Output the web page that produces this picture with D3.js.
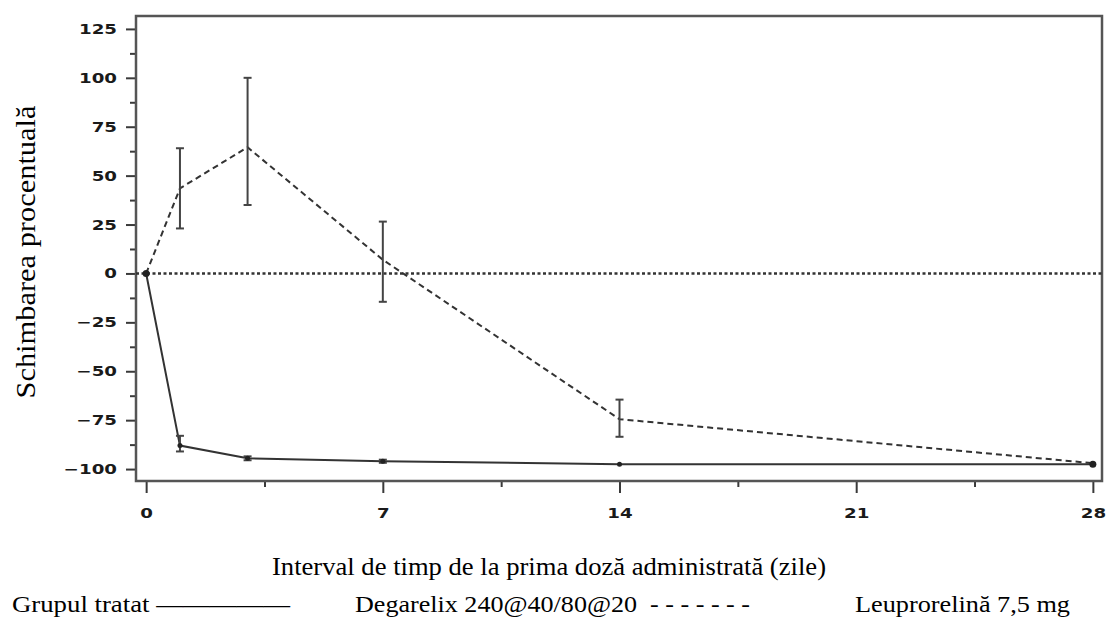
<!DOCTYPE html>
<html>
<head>
<meta charset="utf-8">
<script src="https://cdn.jsdelivr.net/npm/d3@7"></script>
<style>
  body { margin: 0; background: #fff; }
  svg { display: block; }
</style>
</head>
<body>
<div id="chart"></div>
<script>
// Days after first dose
const days = [0, 1, 3, 7, 14, 28];

// Degarelix 240@40/80@20 (solid): mean, low, high
const degMean = [0, -88, -94.5, -96, -97.5, -97.5];
const degLow = [0, -91, -95.5, -96.8, -98.2, -98.2];
const degHigh = [0, -83, -93.5, -95.2, -96.8, -96.8];

// Leuprorelin 7,5 mg (dashed): mean, low, high
const leuMean = [0, 43.5, 64.5, 7, -74.5, -97];
const leuLow = [0, 23, 35, -14.5, -83.5, -98];
const leuHigh = [0, 64, 100, 26.5, -64.5, -96];

const xTicks = [0, 7, 14, 21, 28];
const yTicks = [-100, -75, -50, -25, 0, 25, 50, 75, 100, 125];

const xTitle = 'Interval de timp de la prima doză administrată (zile)';
const yTitle = 'Schimbarea procentuală';
const legendLabels = [
  'Grupul tratat \u2014\u2014\u2014\u2014\u2014',
  'Degarelix 240@40/80@20  - - - - - - -',
  'Leuprorelină 7,5 mg'
];

const W = 1107, H = 621;
const margin = { top: 16, right: 5, bottom: 140, left: 136 };
const w = W - margin.left - margin.right;
const h = H - margin.top - margin.bottom;

const x = d3.scaleLinear().domain([-0.3, 28.27]).range([0, w]);
const y = d3.scaleLinear().domain([-106.1, 131.6]).range([h, 0]);

const svg = d3.select('#chart').append('svg').attr('width', W).attr('height', H);
const g = svg.append('g').attr('transform', `translate(${margin.left},${margin.top})`);

const ink = '#3a3a3a';
const tickFont = '"DejaVu Sans", sans-serif';
const serif = '"Liberation Serif", "Times New Roman", serif';

// stretch text horizontally to look like the wide glyphs of the source
function stretch(sel, k) {
  sel.each(function () {
    const len = this.getComputedTextLength();
    d3.select(this).attr('textLength', len * k).attr('lengthAdjust', 'spacingAndGlyphs');
  });
}

// Axes
g.append('g')
  .call(d3.axisLeft(y).tickValues(yTicks).tickSize(10).tickPadding(9)
    .tickFormat(d => (d < 0 ? '\u2212' : '') + Math.abs(d)));
g.append('g')
  .call(d3.axisLeft(y).tickValues(d3.range(-87.5, 125, 25)).tickSize(6).tickFormat(''));

g.append('g').attr('transform', `translate(0,${h})`)
  .call(d3.axisBottom(x).tickValues(xTicks).tickSize(12).tickPadding(15));
g.append('g').attr('transform', `translate(0,${h})`)
  .call(d3.axisBottom(x).tickValues([3.5, 10.5, 17.5, 24.5]).tickSize(6).tickFormat(''));

g.selectAll('.domain').remove();
g.selectAll('.tick line').attr('stroke', ink).attr('stroke-width', 2);
g.selectAll('.tick text')
  .attr('fill', '#1a1a1a')
  .attr('font-family', tickFont)
  .attr('font-weight', 'bold')
  .attr('font-size', '14px')
  .call(stretch, 1.3);

// Frame
g.append('rect')
  .attr('x', 0).attr('y', 0).attr('width', w).attr('height', h)
  .attr('fill', 'none').attr('stroke', '#555').attr('stroke-width', 2.5);

// Zero reference line
g.append('line')
  .attr('x1', 0).attr('x2', w).attr('y1', y(0)).attr('y2', y(0))
  .attr('stroke', '#333').attr('stroke-width', 2.5).attr('stroke-dasharray', '3 2.5');

const line = d3.line().x(d => x(d[0])).y(d => y(d[1]));

function errorBars(lows, highs, skip) {
  days.forEach((d, i) => {
    if (skip.includes(i)) return;
    const cx = x(d);
    g.append('line')
      .attr('x1', cx).attr('x2', cx).attr('y1', y(lows[i])).attr('y2', y(highs[i]))
      .attr('stroke', '#444').attr('stroke-width', 2);
    [lows[i], highs[i]].forEach(v => {
      g.append('line')
        .attr('x1', cx - 4).attr('x2', cx + 4).attr('y1', y(v)).attr('y2', y(v))
        .attr('stroke', '#444').attr('stroke-width', 2);
    });
  });
}

// Leuprorelin dashed
g.append('path')
  .datum(days.map((d, i) => [d, leuMean[i]]))
  .attr('d', line)
  .attr('fill', 'none').attr('stroke', '#333').attr('stroke-width', 2)
  .attr('stroke-dasharray', '6 4');
errorBars(leuLow, leuHigh, [0, 5]);

// Degarelix solid
g.append('path')
  .datum(days.map((d, i) => [d, degMean[i]]))
  .attr('d', line)
  .attr('fill', 'none').attr('stroke', '#333').attr('stroke-width', 2);
errorBars(degLow, degHigh, [0, 4, 5]);

g.selectAll('.pt')
  .data(days.map((d, i) => [d, degMean[i]]))
  .join('circle')
  .attr('cx', d => x(d[0])).attr('cy', d => y(d[1]))
  .attr('r', d => d[0] === 0 || d[0] === 28 ? 3.5 : 2.5)
  .attr('fill', '#222');

// Axis titles
svg.append('text')
  .attr('transform', 'translate(35,252) rotate(-90)')
  .attr('text-anchor', 'middle')
  .attr('font-family', serif).attr('font-size', '27px').attr('fill', '#000')
  .attr('textLength', 293).attr('lengthAdjust', 'spacingAndGlyphs')
  .text(yTitle);

svg.append('text')
  .attr('x', 549).attr('y', 575)
  .attr('text-anchor', 'middle')
  .attr('font-family', serif).attr('font-size', '26px').attr('fill', '#000')
  .attr('textLength', 554).attr('lengthAdjust', 'spacingAndGlyphs')
  .text(xTitle);

// Legend row
const legendPos = [{ x: 12, len: 278 }, { x: 355, len: 395 }, { x: 855, len: 215 }];
svg.selectAll('.legend')
  .data(legendLabels)
  .join('text')
  .attr('class', 'legend')
  .attr('x', (d, i) => legendPos[i].x).attr('y', 612)
  .attr('font-family', serif).attr('font-size', '24px').attr('fill', '#000')
  .attr('xml:space', 'preserve')
  .attr('textLength', (d, i) => legendPos[i].len)
  .attr('lengthAdjust', 'spacingAndGlyphs')
  .text(d => d);
</script>
</body>
</html>
